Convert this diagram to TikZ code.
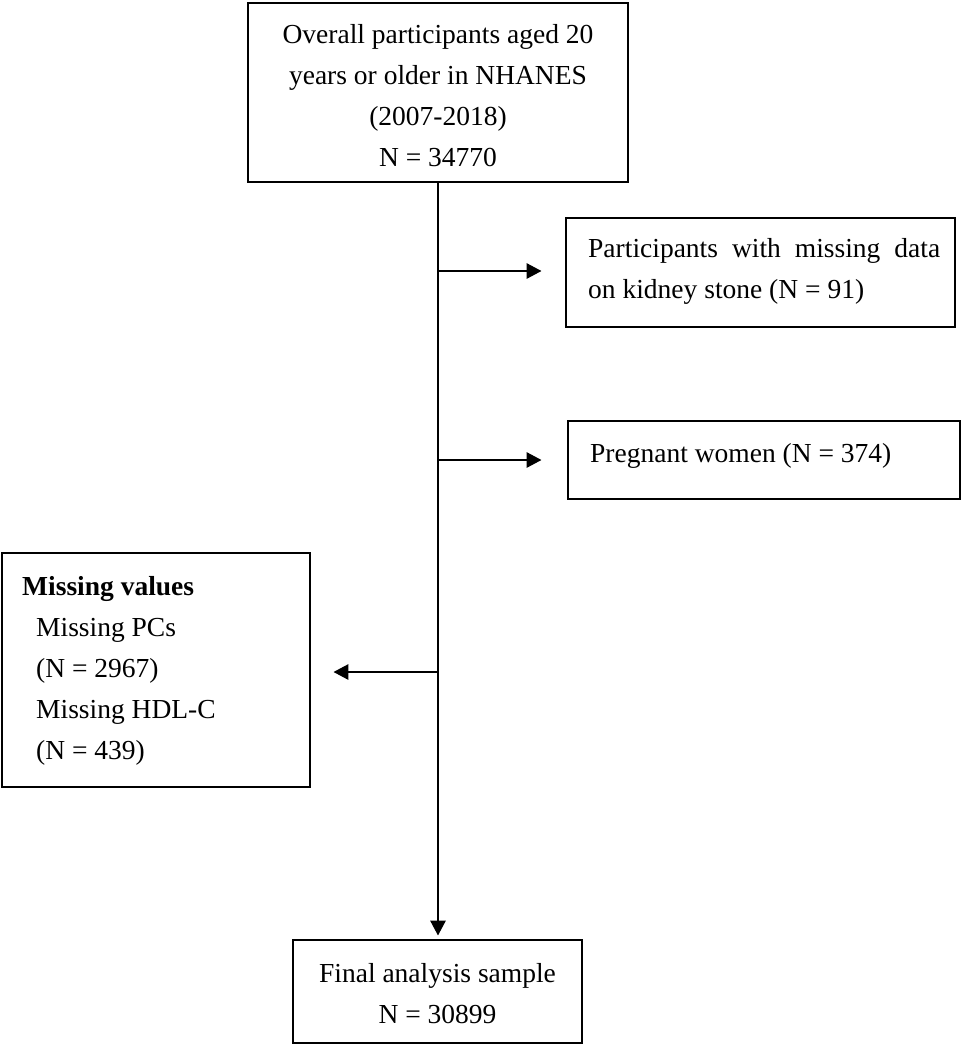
\documentclass[tikz,border=0pt]{standalone}
\usepackage{fontspec}
\setmainfont{Liberation Serif}
\usetikzlibrary{arrows.meta}
\begin{document}
\begin{tikzpicture}[x=1pt,y=-1pt,
  box/.style={draw,line width=2.8pt,inner sep=0pt},
  txt/.style={inner sep=0pt,font=\fontsize{27.5}{41}\selectfont},
  conn/.style={line width=2.8pt,-{Triangle[length=15pt,width=15pt]}}]
\useasboundingbox (0,0) rectangle (963,1045);
% boxes
\node[box,minimum width=380pt,minimum height=179pt] (top) at (438,92.5) {};
\node[box,minimum width=389pt,minimum height=109pt] (kid) at (760.5,272.5) {};
\node[box,minimum width=392pt,minimum height=78pt] (preg) at (764,460) {};
\node[box,minimum width=308pt,minimum height=234pt] (miss) at (156,670) {};
\node[box,minimum width=289pt,minimum height=103pt] (fin) at (437.5,991.5) {};
% texts
\node[txt,anchor=base] (t1) at (438,43) {Overall participants aged 20};
\node[txt,anchor=base] (t2) at (438,84) {years or older in NHANES};
\node[txt,anchor=base] (t3) at (438,125) {(2007-2018)};
\node[txt,anchor=base] (t4) at (438,166) {N = 34770};
\node[txt,anchor=base west,text width=352pt,align=left] (k1) at (588,257)
  {Participants\hfill with\hfill missing\hfill data};
\node[txt,anchor=base west] (k2) at (588,298) {on kidney stone (N = 91)};
\node[txt,anchor=base west] (p1) at (590,462) {Pregnant women (N = 374)};
\node[txt,anchor=base west] (m1) at (22,595) {\textbf{Missing values}};
\node[txt,anchor=base west] (m2) at (36,636) {Missing PCs};
\node[txt,anchor=base west] (m3) at (36,677) {(N = 2967)};
\node[txt,anchor=base west] (m4) at (36,718) {Missing HDL-C};
\node[txt,anchor=base west] (m5) at (36,759) {(N = 439)};
\node[txt,anchor=base] (f1) at (437.5,982) {Final analysis sample};
\node[txt,anchor=base] (f2) at (437.5,1023) {N = 30899};
% connectors
\coordinate (c1) at (438,271);
\coordinate (c2) at (438,460);
\coordinate (c3) at (438,672);
\draw[conn,shorten >=3pt] (top.south -| c1) -- (fin.north -| c1);
\draw[conn,shorten >=23pt] (c1) -- (kid.west |- c1);
\draw[conn,shorten >=25pt] (c2) -- (preg.west |- c2);
\draw[conn,shorten >=22pt] (c3) -- (miss.east |- c3);
\end{tikzpicture}
\end{document}
